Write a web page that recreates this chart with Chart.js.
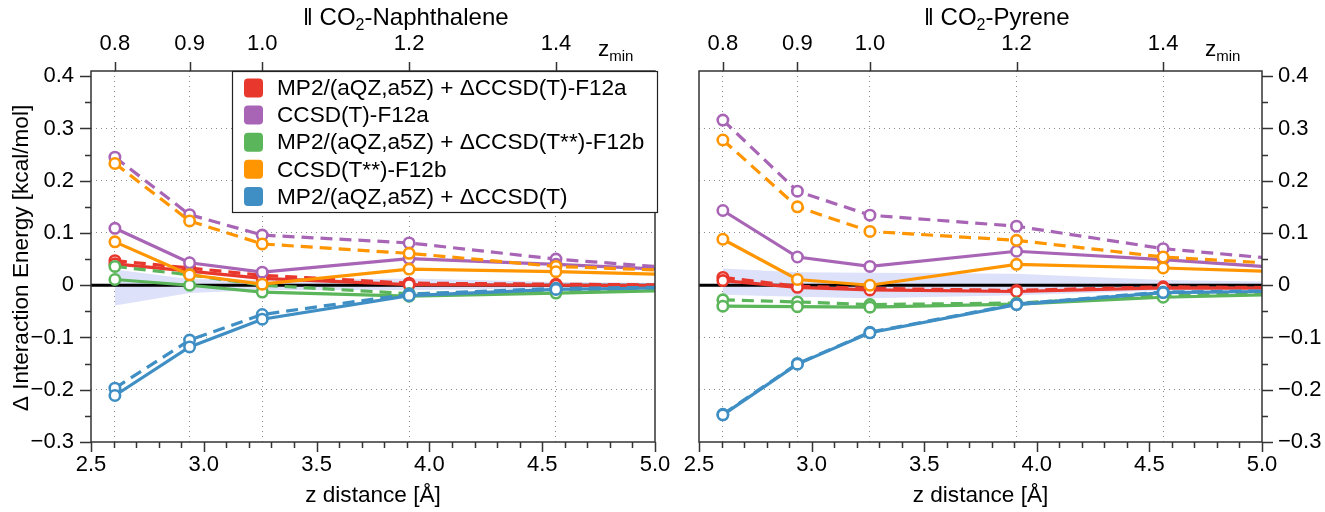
<!DOCTYPE html>
<html>
<head>
<meta charset="utf-8">
<script src="https://cdn.jsdelivr.net/npm/chart.js@4.4.0/dist/chart.umd.min.js"></script>
<style>
  html, body { margin: 0; padding: 0; background: #fff; }
  #wrap { position: relative; width: 1325px; height: 512px; }
  #naph { position: absolute; left: 0; top: 0; }
  #pyr { position: absolute; left: 662px; top: 0; }
</style>
</head>
<body>
<div id="wrap">
  <canvas id="naph" width="690" height="512"></canvas>
  <canvas id="pyr" width="663" height="512"></canvas>
</div>
<script>
// z distances (Angstrom) of the computed points and their z_min labels
const zDist = [2.606, 2.937, 3.259, 3.910, 4.561, 5.213];
const zminLabels = ['0.8', '0.9', '1.0', '1.2', '1.4'];
const xTicks = [2.5, 3.0, 3.5, 4.0, 4.5, 5.0];
const yTicks = [-0.3, -0.2, -0.1, 0, 0.1, 0.2, 0.3, 0.4];

const legendLabels = [
  'MP2/(aQZ,a5Z) + \u0394CCSD(T)-F12a',
  'CCSD(T)-F12a',
  'MP2/(aQZ,a5Z) + \u0394CCSD(T**)-F12b',
  'CCSD(T**)-F12b',
  'MP2/(aQZ,a5Z) + \u0394CCSD(T)'
];

// CO2-Naphthalene (kcal/mol)
const naphMp2F12a      = [0.041, 0.027, 0.013, 0.001, 0.000, -0.001];
const naphMp2F12aDash  = [0.047, 0.033, 0.019, 0.004, 0.002, 0.000];
const naphCcF12a       = [0.109, 0.043, 0.025, 0.051, 0.040, 0.027];
const naphCcF12aDash   = [0.245, 0.135, 0.096, 0.081, 0.050, 0.029];
const naphMp2F12b      = [0.011, 0.000, -0.013, -0.021, -0.015, -0.009];
const naphMp2F12bDash  = [0.036, 0.020, 0.000, -0.016, -0.012, -0.008];
const naphCcF12b       = [0.083, 0.020, 0.002, 0.031, 0.026, 0.019];
const naphCcF12bDash   = [0.233, 0.123, 0.079, 0.061, 0.036, 0.026];
const naphMp2Cc        = [-0.211, -0.118, -0.065, -0.020, -0.008, -0.004];
const naphMp2CcDash    = [-0.197, -0.105, -0.056, -0.017, -0.006, -0.003];
const naphBandHi       = [0.030, 0.012, 0.010, 0.013, 0.006, 0.004];
const naphBandLo       = [-0.039, -0.015, -0.009, -0.009, -0.006, -0.004];

// CO2-Pyrene (kcal/mol)
const pyrMp2F12a       = [0.009, -0.004, -0.009, -0.012, -0.005, -0.006];
const pyrMp2F12aDash   = [0.015, -0.002, -0.006, -0.010, -0.003, -0.005];
const pyrCcF12a        = [0.143, 0.054, 0.036, 0.065, 0.049, 0.030];
const pyrCcF12aDash    = [0.316, 0.180, 0.134, 0.113, 0.070, 0.045];
const pyrMp2F12b       = [-0.040, -0.041, -0.042, -0.036, -0.023, -0.016];
const pyrMp2F12bDash   = [-0.028, -0.032, -0.037, -0.034, -0.020, -0.014];
const pyrCcF12b        = [0.088, 0.011, 0.000, 0.040, 0.033, 0.024];
const pyrCcF12bDash    = [0.278, 0.150, 0.103, 0.086, 0.054, 0.038];
const pyrMp2Cc         = [-0.248, -0.151, -0.091, -0.037, -0.014, -0.011];
const pyrMp2CcDash     = [-0.247, -0.150, -0.090, -0.036, -0.013, -0.010];
const pyrBandHi        = [0.032, 0.025, 0.024, 0.022, 0.010, 0.006];
const pyrBandLo        = [-0.018, -0.022, -0.025, -0.019, -0.010, -0.006];

const RED = '#e8372c', PURPLE = '#a865b5', GREEN = '#5bb55a', ORANGE = '#ff9500', BLUE = '#3f8fc5';
const BAND = 'rgb(221,225,250)';
const legendColors = [RED, PURPLE, GREEN, ORANGE, BLUE];
const FONT = "'Liberation Sans', Arial, Helvetica, sans-serif";
const FS = 22;      // tick labels
const FS_TXT = 22.6; // legend and axis titles
const FS_TITLE = 24;

function pts(arr) {
  return arr.map((v, i) => ({ x: zDist[i], y: v }));
}

function series(label, arr, color, dashed, order) {
  return {
    label: label,
    data: pts(arr),
    borderColor: color,
    borderWidth: 3.2,
    borderDash: dashed ? [12, 7] : [],
    pointRadius: 5.2,
    pointBorderWidth: 2.6,
    pointBorderColor: color,
    pointBackgroundColor: '#fff',
    fill: false,
    tension: 0,
    order: order
  };
}

function band(lo, hi) {
  return [
    { label: 'bandLo', data: pts(lo), borderWidth: 0, pointRadius: 0, fill: false, order: 20 },
    { label: 'bandHi', data: pts(hi), borderWidth: 0, pointRadius: 0, fill: '-1', backgroundColor: BAND, order: 20 }
  ];
}

function fmtY(v) {
  const r = Math.round(v * 10) / 10;
  if (Math.abs(r) < 1e-9) return '0';
  return (r < 0 ? '\u2212' : '') + Math.abs(r).toFixed(1);
}

function drawParts(ctx, parts, x, y, size) {
  let cx = x;
  ctx.textAlign = 'left';
  ctx.textBaseline = 'alphabetic';
  for (const p of parts) {
    ctx.font = (p.sub ? Math.round(size * 0.68) : size) + 'px ' + FONT;
    ctx.fillText(p.t, cx, p.sub ? y + 5 : y);
    cx += ctx.measureText(p.t).width;
  }
}

// zero line, frame, tick marks and extra text for a panel
function panelPlugin(opts) {
  return {
    id: 'panel_' + opts.side,
    beforeDatasetsDraw(chart) {
      const ctx = chart.ctx, a = chart.chartArea;
      const y0 = chart.scales.y.getPixelForValue(0);
      ctx.save();
      ctx.strokeStyle = '#000';
      ctx.lineWidth = 3;
      ctx.beginPath();
      ctx.moveTo(a.left, y0);
      ctx.lineTo(a.right, y0);
      ctx.stroke();
      ctx.restore();
    },
    afterDraw(chart) {
      const ctx = chart.ctx, a = chart.chartArea;
      const xs = chart.scales.x, ys = chart.scales.y;
      ctx.save();
      ctx.strokeStyle = '#333';
      ctx.lineWidth = 1.5;
      ctx.strokeRect(a.left, a.top, a.right - a.left, a.bottom - a.top);

      ctx.beginPath();
      // bottom ticks
      for (let k = 0; k <= 25; k++) {
        const v = 2.5 + k * 0.1;
        const px = Math.round(xs.getPixelForValue(v)) + 0.5;
        const len = (k % 5 === 0) ? 10 : 6;
        ctx.moveTo(px, a.bottom);
        ctx.lineTo(px, a.bottom + len);
      }
      // top ticks at z_min
      for (let i = 0; i < zminLabels.length; i++) {
        const px = Math.round(xs.getPixelForValue(zDist[i])) + 0.5;
        ctx.moveTo(px, a.top);
        ctx.lineTo(px, a.top - 9);
      }
      // y ticks
      for (let k = 0; k <= 14; k++) {
        const v = -0.3 + k * 0.05;
        const py = Math.round(ys.getPixelForValue(v)) + 0.5;
        const len = (k % 2 === 0) ? 11 : 6;
        if (opts.side === 'left') {
          ctx.moveTo(a.left, py);
          ctx.lineTo(a.left - len, py);
        } else {
          ctx.moveTo(a.right, py);
          ctx.lineTo(a.right + len, py);
        }
      }
      ctx.stroke();

      ctx.fillStyle = '#000';
      // title
      drawParts(ctx, [{ t: '\u2016 CO' }, { t: '2', sub: true }, { t: opts.title }], opts.titleX, 25, FS_TITLE);
      // z_min
      drawParts(ctx, [{ t: 'z' }, { t: 'min', sub: true }], opts.zminX, 56, FS_TXT);
      // x axis title
      ctx.font = FS_TXT + 'px ' + FONT;
      ctx.textAlign = 'center';
      ctx.textBaseline = 'middle';
      ctx.fillText('z distance [\u00c5]', (a.left + a.right) / 2, 496);

      if (opts.side === 'left') {
        ctx.save();
        ctx.translate(22, 258);
        ctx.rotate(-Math.PI / 2);
        ctx.fillText('\u0394 Interaction Energy [kcal/mol]', 0, 0);
        ctx.restore();

        // legend box
        const bx = 232, by = a.top, bw = 425, bh = 141;
        ctx.fillStyle = '#fff';
        ctx.fillRect(bx, by, bw, bh);
        ctx.strokeStyle = '#222';
        ctx.lineWidth = 1.2;
        ctx.strokeRect(bx + 0.5, by + 0.5, bw, bh);
        for (let i = 0; i < legendLabels.length; i++) {
          const cy = 88 + i * 27.1;
          ctx.fillStyle = legendColors[i];
          ctx.beginPath();
          ctx.roundRect(244, cy - 9.5, 19, 19, 4);
          ctx.fill();
          ctx.fillStyle = '#000';
          ctx.font = FS_TXT + 'px ' + FONT;
          ctx.textAlign = 'left';
          ctx.textBaseline = 'middle';
          ctx.fillText(legendLabels[i], 277, cy + 1);
        }
      }
      ctx.restore();
    }
  };
}

function noPadX(s, h) {
  s.height = h;
  s.paddingLeft = 0;
  s.paddingRight = 0;
}

function makeChart(id, d, side) {
  const left = side === 'left';
  const datasets = [
    series(legendLabels[4], d.mp2cc, BLUE, false, 1),
    series(legendLabels[4], d.mp2ccDash, BLUE, true, 1),
    series(legendLabels[3], d.ccF12b, ORANGE, false, 2),
    series(legendLabels[3], d.ccF12bDash, ORANGE, true, 2),
    series(legendLabels[2], d.mp2F12b, GREEN, false, 3),
    series(legendLabels[2], d.mp2F12bDash, GREEN, true, 3),
    series(legendLabels[1], d.ccF12a, PURPLE, false, 4),
    series(legendLabels[1], d.ccF12aDash, PURPLE, true, 4),
    series(legendLabels[0], d.mp2F12a, RED, false, 5),
    series(legendLabels[0], d.mp2F12aDash, RED, true, 5)
  ].concat(band(d.bandLo, d.bandHi));

  const tickFont = { family: FONT, size: FS };
  return new Chart(document.getElementById(id), {
    type: 'line',
    data: { datasets: datasets },
    options: {
      responsive: false,
      animation: false,
      events: [],
      layout: { autoPadding: false, padding: left ? { left: 0, right: 35, top: 0, bottom: 0 } : { left: 37, right: 0, top: 0, bottom: 0 } },
      plugins: {
        legend: { display: false },
        tooltip: { enabled: false },
        filler: { drawTime: 'beforeDatasetsDraw' }
      },
      scales: {
        x: {
          type: 'linear', position: 'bottom', min: 2.5, max: 5.0,
          afterBuildTicks: s => { s.ticks = xTicks.map(v => ({ value: v })); },
          ticks: { callback: v => v.toFixed(1), font: tickFont, color: '#000', padding: 10, maxRotation: 0, autoSkip: false },
          grid: { display: false, drawTicks: false },
          border: { display: false },
          afterFit: s => noPadX(s, 70)
        },
        xTop: {
          type: 'linear', position: 'top', min: 2.5, max: 5.0,
          afterBuildTicks: s => { s.ticks = zDist.slice(0, zminLabels.length).map(v => ({ value: v })); },
          ticks: { callback: (v, i) => zminLabels[i], font: tickFont, color: '#000', padding: 14, maxRotation: 0, autoSkip: false },
          grid: { display: true, drawOnChartArea: true, drawTicks: false, color: '#8c8c8c', lineWidth: 1 },
          border: { display: false, dash: [1, 4] },
          afterFit: s => noPadX(s, 71)
        },
        y: {
          position: left ? 'left' : 'right', min: -0.3, max: 0.41,
          afterBuildTicks: s => { s.ticks = yTicks.map(v => ({ value: v })); },
          ticks: { callback: fmtY, font: tickFont, color: '#000', padding: left ? 17 : 16 },
          grid: {
            drawTicks: false, lineWidth: 1,
            color: c => {
              const v = c.tick ? c.tick.value : 0;
              return (Math.abs(v) < 1e-6 || v > 0.35 || v < -0.25) ? 'rgba(0,0,0,0)' : '#8c8c8c';
            }
          },
          border: { display: false, dash: [1, 4] },
          afterFit: s => {
            s.width = left ? 91 : 63;
            s.paddingTop = 0;
            s.paddingBottom = 0;
          }
        }
      }
    },
    plugins: [panelPlugin(left
      ? { side: 'left', title: '-Naphthalene', titleX: 303, zminX: 598 }
      : { side: 'right', title: '-Pyrene', titleX: 262, zminX: 543 })]
  });
}

makeChart('naph', {
  mp2F12a: naphMp2F12a, mp2F12aDash: naphMp2F12aDash,
  ccF12a: naphCcF12a, ccF12aDash: naphCcF12aDash,
  mp2F12b: naphMp2F12b, mp2F12bDash: naphMp2F12bDash,
  ccF12b: naphCcF12b, ccF12bDash: naphCcF12bDash,
  mp2cc: naphMp2Cc, mp2ccDash: naphMp2CcDash,
  bandLo: naphBandLo, bandHi: naphBandHi
}, 'left');

makeChart('pyr', {
  mp2F12a: pyrMp2F12a, mp2F12aDash: pyrMp2F12aDash,
  ccF12a: pyrCcF12a, ccF12aDash: pyrCcF12aDash,
  mp2F12b: pyrMp2F12b, mp2F12bDash: pyrMp2F12bDash,
  ccF12b: pyrCcF12b, ccF12bDash: pyrCcF12bDash,
  mp2cc: pyrMp2Cc, mp2ccDash: pyrMp2CcDash,
  bandLo: pyrBandLo, bandHi: pyrBandHi
}, 'right');
</script>
</body>
</html>
